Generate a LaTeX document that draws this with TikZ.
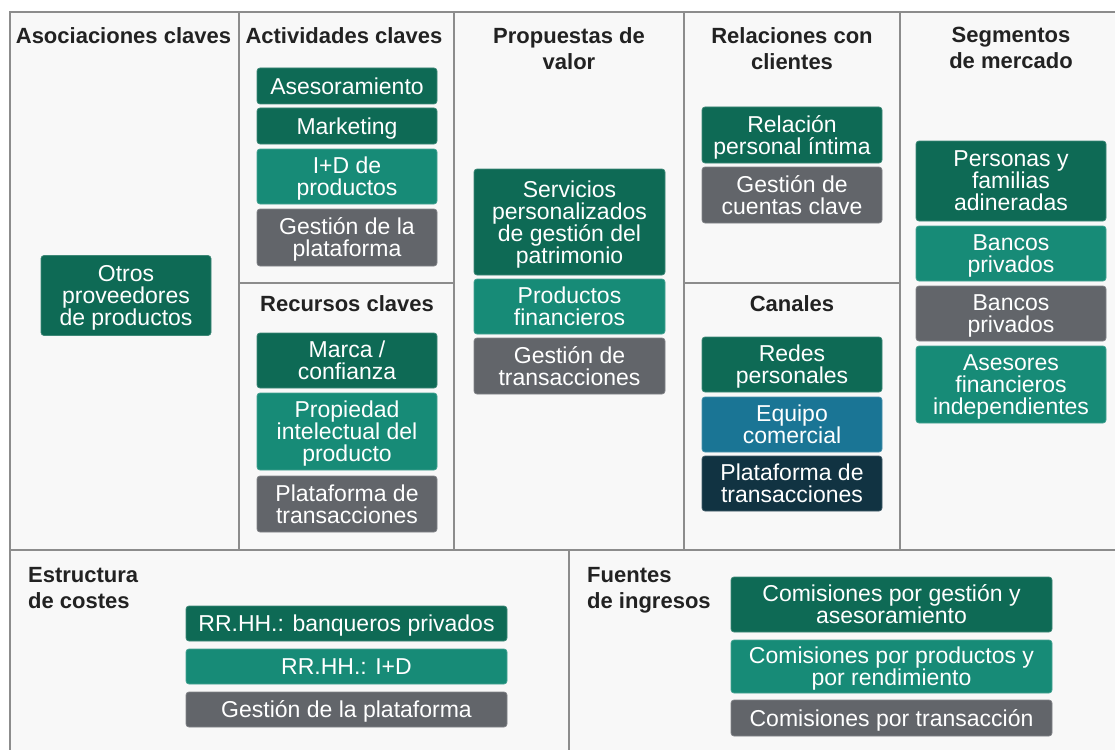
\documentclass[tikz,border=0pt]{standalone}
\usepackage{fontspec}
\setmainfont{Liberation Sans}
\definecolor{canvasdark}{RGB}{14,106,85}
\definecolor{canvasteal}{RGB}{23,139,119}
\definecolor{canvasgray}{RGB}{98,101,106}
\definecolor{canvasblue}{RGB}{26,117,149}
\definecolor{canvasnavy}{RGB}{17,51,66}
\definecolor{canvasline}{RGB}{140,140,140}
\definecolor{canvasbg}{RGB}{248,248,248}
\definecolor{headtext}{RGB}{34,34,34}

\begin{document}
\begin{tikzpicture}[x=1pt, y=-1pt,
    heading/.style={anchor=north, inner sep=0pt, align=center, text=headtext,
        font=\fontsize{22}{26}\selectfont\bfseries},
    card/.style={fill=#1, draw=#1!80!white, line width=0.7pt, rounded corners=3pt,
        text=white, align=center, inner sep=0pt, text depth=0pt,
        font=\fontsize{23}{22}\selectfont}
]
    \useasboundingbox (0,0) rectangle (1115,749);
    % lienzo y rejilla
    \fill[white] (0,0) rectangle (1115,749);
    \draw[canvasline, line width=2pt, fill=canvasbg] (10,12) rectangle (1130,770);
    \draw[canvasline, line width=2pt] (10,550) -- (1130,550);
    \draw[canvasline, line width=2pt] (239,12) -- (239,550);
    \draw[canvasline, line width=2pt] (454,12) -- (454,550);
    \draw[canvasline, line width=2pt] (684,12) -- (684,550);
    \draw[canvasline, line width=2pt] (900,12) -- (900,550);
    \draw[canvasline, line width=2pt] (239,282.5) -- (454,282.5);
    \draw[canvasline, line width=2pt] (684,282.5) -- (900,282.5);
    \draw[canvasline, line width=2pt] (569,550) -- (569,770);

    % titulos
    \node[heading] (asoc) at (123.5,27) {Asociaciones claves};
    \node[heading] (activ) at (344,27) {Actividades claves};
    \node[heading] (prop) at (569,27) {Propuestas de\\valor};
    \node[heading] (relac) at (792,27) {Relaciones con\\clientes};
    \node[heading] (segm) at (1011,27) {Segmentos\\de mercado};
    \node[heading] (recur) at (347,295) {Recursos claves};
    \node[heading] (canal) at (792,295) {Canales};
    \node[heading, anchor=north west, align=left] (estruct) at (28,567) {Estructura\\de costes};
    \node[heading, anchor=north west, align=left] (fuentes) at (587,567) {Fuentes\\de ingresos};

    % asociaciones
    \node[card=canvasdark, minimum width=170pt, minimum height=80pt] (otros) at (126,295.5) {Otros\\proveedores\\de productos};

    % actividades
    \node[card=canvasdark, minimum width=180pt, minimum height=36pt] (asesor) at (347,86) {Asesoramiento};
    \node[card=canvasdark, minimum width=180pt, minimum height=36pt] (mkt) at (347,126) {Marketing};
    \node[card=canvasteal, minimum width=180pt, minimum height=55pt] (imasd) at (347,176.5) {I+D de\\productos};
    \node[card=canvasgray, minimum width=180pt, minimum height=57pt] (gestplat) at (347,237.5) {Gestión de la\\plataforma};

    % recursos
    \node[card=canvasdark, minimum width=180pt, minimum height=55pt] (marca) at (347,360.5) {Marca /\\confianza};
    \node[card=canvasteal, minimum width=180pt, minimum height=77pt] (propint) at (347,431.5) {Propiedad\\intelectual del\\producto};
    \node[card=canvasgray, minimum width=180pt, minimum height=56pt] (platrec) at (347,504) {Plataforma de\\transacciones};

    % propuestas
    \node[card=canvasdark, minimum width=191pt, minimum height=106pt] (servic) at (569.5,222) {Servicios\\personalizados\\de gestión del\\patrimonio};
    \node[card=canvasteal, minimum width=191pt, minimum height=55pt] (prodfin) at (569.5,306.5) {Productos\\financieros};
    \node[card=canvasgray, minimum width=191pt, minimum height=56pt] (gesttrans) at (569.5,366) {Gestión de\\transacciones};

    % relaciones
    \node[card=canvasdark, minimum width=180pt, minimum height=56pt] (relper) at (792,135) {Relación\\personal íntima};
    \node[card=canvasgray, minimum width=180pt, minimum height=56pt] (cuentas) at (792,195) {Gestión de\\cuentas clave};

    % canales
    \node[card=canvasdark, minimum width=180pt, minimum height=55pt] (redes) at (792,364.5) {Redes\\personales};
    \node[card=canvasblue, minimum width=180pt, minimum height=55pt] (equipo) at (792,424.5) {Equipo\\comercial};
    \node[card=canvasnavy, minimum width=180pt, minimum height=55pt] (platcan) at (792,483.5) {Plataforma de\\transacciones};

    % segmentos
    \node[card=canvasdark, minimum width=190pt, minimum height=80pt] (personas) at (1011,181) {Personas y\\familias\\adineradas};
    \node[card=canvasteal, minimum width=190pt, minimum height=55pt] (bancosa) at (1011,253.5) {Bancos\\privados};
    \node[card=canvasgray, minimum width=190pt, minimum height=55pt] (bancosb) at (1011,313.5) {Bancos\\privados};
    \node[card=canvasteal, minimum width=190pt, minimum height=77pt] (asesores) at (1011,384.5) {Asesores\\financieros\\independientes};

    % costes
    \node[card=canvasdark, minimum width=321pt, minimum height=35pt] (rrhhbanq) at (346.5,623.5) {RR.HH.: banqueros privados};
    \node[card=canvasteal, minimum width=321pt, minimum height=35pt] (rrhhimasd) at (346.5,666.5) {RR.HH.: I+D};
    \node[card=canvasgray, minimum width=321pt, minimum height=35pt] (costplat) at (346.5,709.5) {Gestión de la plataforma};

    % ingresos
    \node[card=canvasdark, minimum width=321pt, minimum height=55pt] (comgest) at (891.5,604.5) {Comisiones por gestión y\\asesoramiento};
    \node[card=canvasteal, minimum width=321pt, minimum height=53pt] (comprod) at (891.5,666.5) {Comisiones por productos y\\por rendimiento};
    \node[card=canvasgray, minimum width=321pt, minimum height=36pt] (comtrans) at (891.5,718) {Comisiones por transacción};
\end{tikzpicture}
\end{document}
